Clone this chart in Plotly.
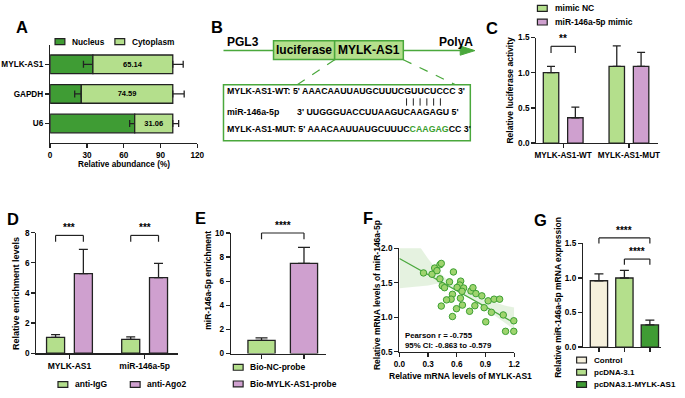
import numpy as np
import plotly.graph_objects as go

W, H = 685, 398
FONT = "Liberation Sans"

# ---------------- data ----------------
# Panel A
a_genes = ["MYLK-AS1", "GAPDH", "U6"]
a_nucleus = [34.86, 25.41, 68.94]
a_nucleus_err = [7.7, 5.4, 4.1]
a_cytoplasm = [65.14, 74.59, 31.06]
a_cytoplasm_err = [8.5, 9.3, 4.8]

# Panel C
c_groups = ["MYLK-AS1-WT", "MYLK-AS1-MUT"]
c_nc = [1.00, 1.09]
c_nc_err = [0.09, 0.29]
c_mimic = [0.36, 1.09]
c_mimic_err = [0.15, 0.20]

# Panel D
d_groups = ["MYLK-AS1", "miR-146a-5p"]
d_igg = [1.05, 0.92]
d_igg_err = [0.18, 0.16]
d_ago2 = [5.28, 5.02]
d_ago2_err = [1.62, 0.95]

# Panel E
e_groups = ["Bio-NC-probe", "Bio-MYLK-AS1-probe"]
e_vals = [1.10, 7.48]
e_err = [0.20, 1.32]

# Panel F
f_x = [0.252, 0.341, 0.369, 0.393, 0.424, 0.438, 0.565, 0.424, 0.448, 0.472,
       0.524, 0.641, 0.631, 0.603, 0.672, 0.655, 0.555, 0.541, 0.493, 0.638,
       0.438, 0.597, 0.659, 0.555, 0.748, 0.769, 0.800, 0.862, 0.928, 0.990,
       1.048, 0.789, 0.886, 0.962, 0.734, 1.086, 0.903, 1.196, 1.110, 1.196]
f_y = [1.643, 1.624, 1.714, 1.676, 1.761, 1.781, 1.657, 1.557, 1.457, 1.429,
       1.514, 1.524, 1.467, 1.433, 1.424, 1.376, 1.333, 1.262, 1.252, 1.276,
       1.162, 1.124, 1.176, 1.010, 1.381, 1.429, 1.343, 1.310, 1.238, 1.262,
       1.262, 1.167, 1.138, 1.071, 1.086, 1.033, 0.933, 0.948, 0.795, 0.795]
f_band_x = [0.0, 0.1, 0.2, 0.3, 0.4, 0.5, 0.6, 0.7, 0.8, 0.9, 1.0, 1.1, 1.2]
f_band_upper = [2.30, 2.25, 2.05, 1.85, 1.68, 1.54, 1.45, 1.38, 1.31, 1.26, 1.21, 1.17, 1.14]
f_band_lower = [1.42, 1.43, 1.44, 1.46, 1.49, 1.46, 1.39, 1.31, 1.22, 1.12, 1.02, 0.92, 0.82]
f_stats = ["Pearson r = -0.755", "95% CI: -0.863 to -0.579"]

# Panel G
g_groups = ["Control", "pcDNA-3.1", "pcDNA3.1-MYLK-AS1"]
g_vals = [0.96, 1.00, 0.32]
g_err = [0.10, 0.11, 0.07]

# ---------------- style ----------------
DKGREEN = "#3f9c34"
LTGREEN = "#b4df8c"
PURPLE = "#cfa0cf"
CREAM = "#f5f0dc"
OUTLINE = "#222222"
LINEGREEN = "#4aa83c"

def fnt(size, color="black"):
    return dict(family=FONT, size=size, color=color, weight="bold")

# axes geometry in pixels: x domain (left,right), y domain (bottom, top)
AX = {
    "A": dict(xd=(45, 195), yd=(142.3, 41.7), xr=(0, 120), yr=(2.66, -0.66), n=""),
    "C": dict(xd=(540.7, 665), yd=(142.3, 34.3), xr=(-0.407, 1.448), yr=(0, 1.5), n="2"),
    "D": dict(xd=(31, 175), yd=(357.3, 234), xr=(-0.44, 1.44), yr=(0, 8), n="3"),
    "E": dict(xd=(229.3, 326.7), yd=(357.7, 234.3), xr=(-0.72, 1.53), yr=(0, 10), n="4"),
    "F": dict(xd=(401, 518), yd=(355.7, 250), xr=(0, 1.2), yr=(0.5, 2.0), n="5"),
    "G": dict(xd=(588.3, 668), yd=(351, 245), xr=(-0.62, 2.45), yr=(0, 1.5), n="6"),
}

def mapx(p, v):
    a = AX[p]; d0, d1 = a["xd"]; r0, r1 = a["xr"]
    return (d0 + (v - r0) / (r1 - r0) * (d1 - d0)) / W

def mapy(p, v):
    a = AX[p]; d0, d1 = a["yd"]; r0, r1 = a["yr"]
    return 1 - (d0 + (v - r0) / (r1 - r0) * (d1 - d0)) / H

def PX(x):
    return x / W

def PY(y):
    return 1 - y / H

base_axis = dict(showline=True, linecolor=OUTLINE, linewidth=1.3, ticks="outside",
                 ticklen=4, tickwidth=1.3, tickcolor=OUTLINE, showgrid=False,
                 zeroline=False, tickfont=fnt(8.2), fixedrange=True)

layout_axes = {}
for p, a in AX.items():
    n = a["n"]
    xa = dict(base_axis, domain=[a["xd"][0] / W, a["xd"][1] / W], range=list(a["xr"]),
              anchor="y" + n)
    ya = dict(base_axis, domain=[PY(a["yd"][0]), PY(a["yd"][1])], range=list(a["yr"]),
              anchor="x" + n)
    layout_axes["xaxis" + n] = xa
    layout_axes["yaxis" + n] = ya

# category / tick specifics
layout_axes["xaxis"].update(tickvals=[0, 30, 60, 90, 120])
layout_axes["yaxis"].update(type="category", categoryarray=a_genes, categoryorder="array")
layout_axes["xaxis2"].update(type="category", categoryarray=c_groups, categoryorder="array")
layout_axes["yaxis2"].update(tickvals=[0, 0.5, 1.0, 1.5], tickformat=".1f")
layout_axes["xaxis3"].update(type="category", categoryarray=d_groups, categoryorder="array",
                             tickfont=fnt(8.5))
layout_axes["yaxis3"].update(tickvals=[0, 2, 4, 6, 8])
layout_axes["xaxis4"].update(type="category", categoryarray=e_groups, categoryorder="array",
                             showticklabels=False)
layout_axes["yaxis4"].update(tickvals=[0, 2, 4, 6, 8, 10])
layout_axes["xaxis5"].update(tickvals=[0, 0.3, 0.6, 0.9, 1.2], tickformat=".1f")
layout_axes["yaxis5"].update(tickvals=[0.5, 1.0, 1.5, 2.0], tickformat=".1f")
layout_axes["xaxis6"].update(type="category", categoryarray=g_groups, categoryorder="array",
                             showticklabels=False)
layout_axes["yaxis6"].update(tickvals=[0, 0.5, 1.0, 1.5], tickformat=".1f")

fig = go.Figure()

bar_line = dict(color=OUTLINE, width=1.3)
err_style = dict(color=OUTLINE, thickness=1.3)

# ---------- Panel A ----------
fig.add_trace(go.Bar(orientation="h", y=a_genes, x=a_nucleus, width=0.63,
                     marker=dict(color=DKGREEN, line=bar_line),
                     error_x=dict(type="data", symmetric=False, array=[0] * 3,
                                  arrayminus=a_nucleus_err, width=3.5, **err_style),
                     xaxis="x", yaxis="y", showlegend=False))
fig.add_trace(go.Bar(orientation="h", y=a_genes, x=a_cytoplasm, base=a_nucleus, width=0.63,
                     marker=dict(color=LTGREEN, line=bar_line),
                     text=[f"{v:.2f}" for v in a_cytoplasm], textposition="inside",
                     insidetextanchor="middle", textangle=0, textfont=fnt(7.5),
                     error_x=dict(type="data", symmetric=False, array=a_cytoplasm_err,
                                  arrayminus=[0] * 3, width=3.5, **err_style),
                     xaxis="x", yaxis="y", showlegend=False))

# ---------- Panel C ----------
cw = 0.235
fig.add_trace(go.Bar(x=c_groups, y=c_nc, width=cw, offset=-0.185 - cw / 2,
                     marker=dict(color=LTGREEN, line=bar_line),
                     error_y=dict(type="data", symmetric=False, array=c_nc_err,
                                  arrayminus=[0, 0], width=4, **err_style),
                     xaxis="x2", yaxis="y2", showlegend=False))
fig.add_trace(go.Bar(x=c_groups, y=c_mimic, width=cw, offset=0.185 - cw / 2,
                     marker=dict(color=PURPLE, line=bar_line),
                     error_y=dict(type="data", symmetric=False, array=c_mimic_err,
                                  arrayminus=[0, 0], width=4, **err_style),
                     xaxis="x2", yaxis="y2", showlegend=False))

# ---------- Panel D ----------
dw = 0.24
fig.add_trace(go.Bar(x=d_groups, y=d_igg, width=dw, offset=-0.185 - dw / 2,
                     marker=dict(color=LTGREEN, line=bar_line),
                     error_y=dict(type="data", symmetric=False, array=d_igg_err,
                                  arrayminus=[0, 0], width=4.5, **err_style),
                     xaxis="x3", yaxis="y3", showlegend=False))
fig.add_trace(go.Bar(x=d_groups, y=d_ago2, width=dw, offset=0.185 - dw / 2,
                     marker=dict(color=PURPLE, line=bar_line),
                     error_y=dict(type="data", symmetric=False, array=d_ago2_err,
                                  arrayminus=[0, 0], width=4.5, **err_style),
                     xaxis="x3", yaxis="y3", showlegend=False))

# ---------- Panel E ----------
ew = 0.64
fig.add_trace(go.Bar(x=e_groups, y=e_vals, width=ew, offset=-ew / 2,
                     marker=dict(color=[LTGREEN, PURPLE], line=bar_line),
                     error_y=dict(type="data", symmetric=False, array=e_err,
                                  arrayminus=[0, 0], width=6, **err_style),
                     xaxis="x4", yaxis="y4", showlegend=False))

# ---------- Panel F ----------
fig.add_trace(go.Scatter(x=f_band_x, y=f_band_lower, mode="lines", line=dict(width=0),
                         hoverinfo="skip", xaxis="x5", yaxis="y5", showlegend=False))
fig.add_trace(go.Scatter(x=f_band_x, y=f_band_upper, mode="lines", line=dict(width=0),
                         fill="tonexty", fillcolor="rgba(150,205,130,0.25)",
                         hoverinfo="skip", xaxis="x5", yaxis="y5", showlegend=False))
slope, intercept = np.polyfit(f_x, f_y, 1)
line_x = np.array([f_band_x[0], f_band_x[-1]])
fig.add_trace(go.Scatter(x=line_x, y=intercept + slope * line_x, mode="lines",
                         line=dict(color=LINEGREEN, width=1.3),
                         xaxis="x5", yaxis="y5", showlegend=False))
fig.add_trace(go.Scatter(x=f_x, y=f_y, mode="markers", cliponaxis=False,
                         marker=dict(size=6.5, color="#9fd46e",
                                     line=dict(color="#3c9f33", width=1)),
                         xaxis="x5", yaxis="y5", showlegend=False))

# ---------- Panel G ----------
gw = 0.68
fig.add_trace(go.Bar(x=g_groups, y=g_vals, width=gw, offset=-gw / 2,
                     marker=dict(color=[CREAM, LTGREEN, DKGREEN], line=bar_line),
                     error_y=dict(type="data", symmetric=False, array=g_err,
                                  arrayminus=[0, 0, 0], width=4.5, **err_style),
                     xaxis="x6", yaxis="y6", showlegend=False))

# ---------------- shapes & annotations ----------------
shapes = []
ann = []

def text(x, y, s, size=8, xanchor="left", yanchor="middle", angle=0, color="black"):
    ann.append(dict(x=PX(x), y=PY(y), xref="paper", yref="paper", text=s, showarrow=False,
                    xanchor=xanchor, yanchor=yanchor, textangle=angle, font=fnt(size, color),
                    borderpad=0))

def pline(x0, y0, x1, y1, color=OUTLINE, width=1.2, dash=None):
    ln = dict(color=color, width=width)
    if dash:
        ln["dash"] = dash
    shapes.append(dict(type="line", xref="paper", yref="paper", x0=PX(x0), y0=PY(y0),
                       x1=PX(x1), y1=PY(y1), line=ln))

def prect(x0, y0, x1, y1, fill, color=OUTLINE, width=1.0):
    shapes.append(dict(type="rect", xref="paper", yref="paper", x0=PX(x0), y0=PY(y0),
                       x1=PX(x1), y1=PY(y1), fillcolor=fill, line=dict(color=color, width=width)))

def swatch(x, y, fill, label, size=8):
    prect(x, y - 3, x + 10, y + 3, fill, width=1.2)
    text(x + 16.5, y, label, size)

def bracket(p, xa, xb, ytop, ybot, stars):
    X0, X1 = mapx(p, xa), mapx(p, xb)
    Yt, Yb = mapy(p, ytop), mapy(p, ybot)
    for (a, b, c, d) in [(X0, Yb, X0, Yt), (X0, Yt, X1, Yt), (X1, Yt, X1, Yb)]:
        shapes.append(dict(type="line", xref="paper", yref="paper", x0=a, y0=b, x1=c, y1=d,
                           line=dict(color=OUTLINE, width=1.2)))
    ann.append(dict(x=(X0 + X1) / 2, y=Yt + 1.0 / H, xref="paper", yref="paper", text=stars,
                    showarrow=False, xanchor="center", yanchor="bottom", font=fnt(10),
                    borderpad=0))

# panel letters
for L, (x, y) in {"A": (16, 24), "B": (215, 24), "C": (495, 25), "D": (7, 220),
                  "E": (198, 219), "F": (369, 219), "G": (545, 221)}.items():
    text(x, y, L, 16.5, xanchor="center")

# Panel A extras
swatch(50, 38.5, DKGREEN, "Nucleus", 8.3)
swatch(111, 38.5, LTGREEN, "Cytoplasm", 8.3)
text(120, 164.3, "Relative abundance (%)", 8.2, xanchor="center")

# Panel B diagram
pline(221.7, 47.7, 466, 47.7, color=LINEGREEN, width=1.5)
shapes.append(dict(type="path", xref="paper", yref="paper",
                   path=f"M {PX(463)} {PY(43)} L {PX(478)} {PY(47.7)} L {PX(463)} {PY(52.4)} Z",
                   fillcolor=LINEGREEN, line=dict(color=LINEGREEN, width=1)))
prect(272.7, 37.7, 335, 56.7, LTGREEN, color=LINEGREEN, width=1.5)
prect(335, 37.7, 405, 56.7, LTGREEN, color=LINEGREEN, width=1.5)
text(303.8, 47.4, "luciferase", 12, xanchor="center")
text(370, 47.4, "MYLK-AS1", 12, xanchor="center")
text(224, 38.5, "PGL3", 12)
text(440, 38.5, "PolyA", 12)
pline(335, 57, 296.7, 82.7, color=LINEGREEN, width=1.2, dash="dash")
pline(405, 57, 458.3, 82.7, color=LINEGREEN, width=1.2, dash="dash")
prect(221.7, 82.7, 473.3, 140, "white", color=LINEGREEN, width=1.5)
text(224, 89.5, "MYLK-AS1-WT: 5' AAACAAUUAUGCUUUCGUUCUCCC 3'", 8.8)
text(224, 110.5, "miR-146a-5p", 8.8)
text(296, 110.5, "3' UUGGGUACCUUAAGUCAAGAGU 5'", 8.8)
text(224, 127.5, "MYLK-AS1-MUT: 5' AAACAAUUAUGCUUUC"
     "<span style='color:#3aa02e'>CAAGAG</span>CC 3'", 8.8)
for bx in [408.3, 415.2, 422.1, 429.0, 435.9, 442.8]:
    pline(bx, 96.5, bx, 104, color="#222222", width=1.0)

# Panel C extras
swatch(541.7, 4.5, LTGREEN, "mimic NC", 8.5)
swatch(541.7, 18.5, PURPLE, "miR-146a-5p mimic", 8.5)
text(513.3, 88, "Relative luciferase activity", 8.5, xanchor="center", angle=-90)
bracket("C", -0.185, 0.185, 1.375, 1.28, "**")

# Panel D extras
text(10, 296, "Relative enrichment levels", 9, xanchor="center", angle=-90)
bracket("D", -0.185, 0.185, 7.82, 7.4, "***")
bracket("D", 1 - 0.185, 1 + 0.185, 7.82, 7.4, "***")
swatch(53, 389.3, LTGREEN, "anti-IgG", 8.5)
swatch(126.7, 389.3, PURPLE, "anti-Ago2", 8.5)

# Panel E extras
text(206, 283, "miR-146a-5p enrichment", 8.5, xanchor="center", angle=-90)
bracket("E", 0, 1, 10.0, 9.48, "****")
swatch(231.7, 371.7, LTGREEN, "Bio-NC-probe", 8.5)
swatch(231.7, 388.7, PURPLE, "Bio-MYLK-AS1-probe", 8.5)

# Panel F extras
text(378, 298, "Relative mRNA levels of miR-146a-5p", 8.5, xanchor="center", angle=-90)
text(463, 380.7, "Relative mRNA levels of MYLK-AS1", 8.5, xanchor="center")
text(405.5, 339.3, f_stats[0], 7.8)
text(405.5, 349.3, f_stats[1], 7.8)

# Panel G extras
text(563.3, 300, "Relative miR-146a-5p mRNA expression", 8.5, xanchor="center", angle=-90)
bracket("G", 0, 2, 1.58, 1.50, "****")
bracket("G", 1, 2, 1.274, 1.193, "****")
swatch(581.7, 364.3, CREAM, "Control", 8)
swatch(581.7, 376.8, LTGREEN, "pcDNA-3.1", 8)
swatch(581.7, 389.3, DKGREEN, "pcDNA3.1-MYLK-AS1", 8)

fig.update_layout(width=W, height=H, margin=dict(l=0, r=0, t=0, b=0),
                  paper_bgcolor="white", plot_bgcolor="white", barmode="overlay",
                  font=dict(family=FONT, color="black"),
                  shapes=shapes, annotations=ann, **layout_axes)

fig.write_html("out.html", config={"displayModeBar": False, "staticPlot": True},
               post_script="document.body.style.margin='0px';"
                           "document.body.style.overflow='hidden';")
